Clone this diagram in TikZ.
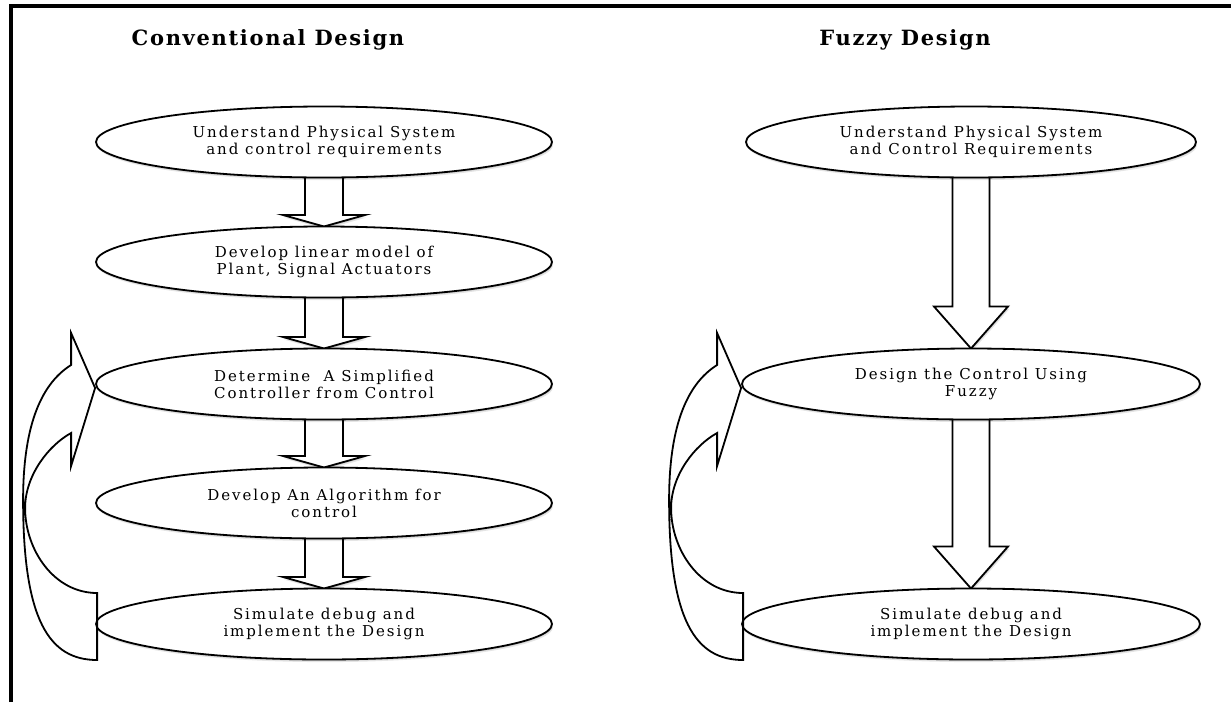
\documentclass[tikz,border=0pt]{standalone}
\usepackage{fontspec}
\setmainfont{DejaVu Serif}
\newfontfamily\boxfont[LetterSpace=13]{DejaVu Serif}
\newfontfamily\titlefont[LetterSpace=8]{DejaVu Serif}
\usetikzlibrary{shapes.geometric,calc,shadows}
\begin{document}
\begin{tikzpicture}[x=1pt,y=-1pt,
  softshadow/.style={drop shadow={shadow xshift=1.2pt,shadow yshift=-2.6pt,fill=black,opacity=.10},
                     drop shadow={shadow xshift=0.6pt,shadow yshift=-1.4pt,fill=black,opacity=.10}},
  stage/.style={ellipse,draw=black,line width=1.8pt,fill=white,softshadow,
                minimum height=71pt,inner sep=0pt,align=center,
                font=\boxfont\fontsize{15}{17}\selectfont},
  leftstage/.style={stage,minimum width=456pt},
  rightstage/.style={stage,minimum width=458pt},
  heading/.style={font=\titlefont\bfseries\fontsize{21}{24}\selectfont,anchor=base},
  blockarrow/.style={draw=black,line width=1.8pt,fill=white,line join=miter,softshadow},
  loopback/.style={draw=black,line width=1.8pt,fill=none,line join=miter}]

\useasboundingbox (0,0) rectangle (1231,702);
\fill[white] (0,0) rectangle (1231,702);

% frame along the top and left edges
\draw[line width=4.6pt,line join=miter] (11,702) -- (11,6) -- (1231,6);

% headings
\node[heading] (tconv) at (268,45) {Conventional Design};
\node[heading] (tfuzzy) at (905,45) {Fuzzy Design};

% coordinates of the stages
\coordinate (p1) at (324,142);
\coordinate (p2) at (324,262);
\coordinate (p3) at (324,384);
\coordinate (p4) at (324,503);
\coordinate (p5) at (324,624);
\coordinate (q1) at (971,142);
\coordinate (q2) at (971,384);
\coordinate (q3) at (971,624);

% down block arrows: from, to, shaft half width, head half width, head length
\newcommand\blockdown[5]{%
  \draw[blockarrow] let \p1=(#1), \p2=($(#2)+(0,-35.5)$) in
    (\x1-#3,\y1) -- (\x1-#3,\y2+#5) -- (\x1-#4,\y2+#5) -- (\x1,\y2)
    -- (\x1+#4,\y2+#5) -- (\x1+#3,\y2+#5) -- (\x1+#3,\y1) -- cycle;}

\blockdown{p1}{p2}{19pt}{41pt}{11.5pt}
\blockdown{p2}{p3}{19pt}{41pt}{11.5pt}
\blockdown{p3}{p4}{19pt}{41pt}{11.5pt}
\blockdown{p4}{p5}{19pt}{41pt}{11.5pt}
\blockdown{q1}{q2}{18.5pt}{37pt}{42pt}
\blockdown{q2}{q3}{18.5pt}{37pt}{42pt}

% conventional design stages
\node[leftstage] (c1) at (p1) {Understand Physical System\\and control requirements};
\node[leftstage] (c2) at (p2) {Develop linear model of\\Plant, Signal Actuators};
\node[leftstage] (c3) at (p3) {Determine\ \ A Simplified\\Controller from Control};
\node[leftstage] (c4) at (p4) {Develop An Algorithm for\\control};
\node[leftstage] (c5) at (p5) {Simulate debug and\\implement the Design};

% fuzzy design stages
\node[rightstage,minimum width=450pt] (f1) at (q1) {Understand Physical System\\and Control Requirements};
\node[rightstage] (f2) at (q2) {Design the Control Using\\Fuzzy};
\node[rightstage] (f3) at (q3) {Simulate debug and\\implement the Design};

% curved feedback arrow: from the last stage back to the controller stage
\newcommand\looparrow[1]{%
  \begin{scope}[shift={(#1)}]
    \draw[loopback] (2,36) -- (2,-31)
      .. controls (-41,-31) and (-70,-74) .. (-70,-116)
      .. controls (-70,-149) and (-46,-179) .. (-24,-191)
      -- (-24,-158) -- (0,-236) -- (-24,-291) -- (-24,-259)
      .. controls (-56,-239) and (-72,-194) .. (-72,-124)
      .. controls (-72,-4) and (-46,36) .. (2,36) -- cycle;
  \end{scope}}

\looparrow{c5.west}
\looparrow{f3.west}

\end{tikzpicture}
\end{document}
